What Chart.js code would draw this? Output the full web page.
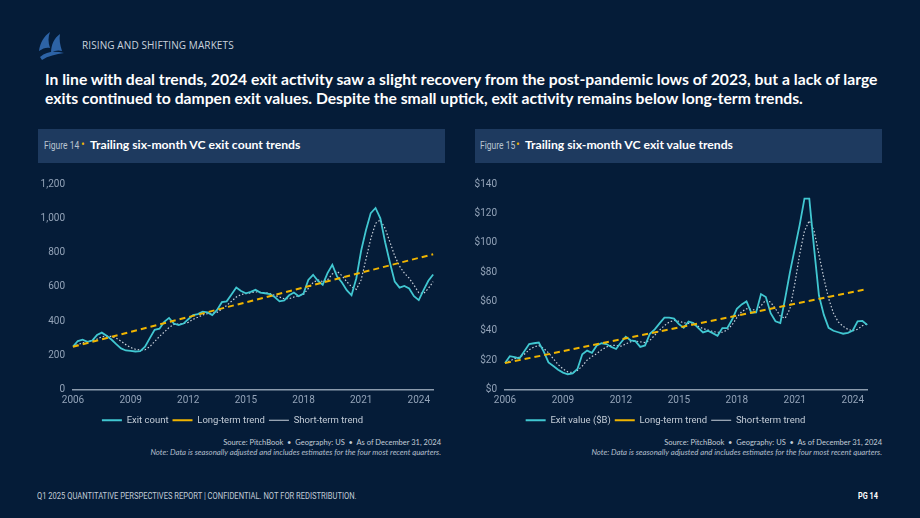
<!DOCTYPE html>
<html>
<head>
<meta charset="utf-8">
<script src="https://cdn.jsdelivr.net/npm/chart.js@4.4.1/dist/chart.umd.min.js"></script>
<style>
  html, body { margin:0; padding:0; }
  body { width:920px; height:518px; background:#051c38; position:relative; overflow:hidden; font-family:"Open Sans", Lato, sans-serif; }
  .abs { position:absolute; }
  .cond { display:inline-block; transform-origin:0 50%; white-space:nowrap; }
  #kicker { left:82px; top:38px; font-size:10px; color:#c9d2dc; letter-spacing:0.1px; }
  #headline { left:45px; top:70px; font-family:Lato, sans-serif; font-weight:700; font-size:15.7px; line-height:19px; color:#fff; white-space:nowrap; }
  .panel { top:129px; height:34px; background:#1e3a5f; }
  .panel .fig { position:absolute; top:9px; font-family:Roboto, sans-serif; font-size:11.5px; color:#b9c4d0; transform:scaleX(0.74); }
  .panel .dot { position:absolute; top:8px; color:#f2b705; font-size:10px; }
  .panel .ttl { position:absolute; top:8px; font-family:Lato, sans-serif; font-weight:700; font-size:12.2px; color:#fff; white-space:nowrap; }
  .src { font-family:Lato, sans-serif; font-size:7.8px; line-height:9.5px; color:#c2ccd7; text-align:right; white-space:nowrap; }
  .src span { font-size:7.5px; }
  .src i { color:#b3bfcc; }
  #foot { left:37px; top:491px; font-family:Roboto, sans-serif; font-size:8.5px; color:#c2ccd7; transform:scaleX(0.89); }
  #pg { left:858px; top:491px; font-family:Roboto, sans-serif; font-weight:700; font-size:8.5px; color:#fff; transform:scaleX(0.86); }
</style>
</head>
<body>
<svg class="abs" style="left:36px;top:31px" width="32" height="30" viewBox="0 0 32 30">
  <path d="M14 1 C8 5 4 12 3 20 C7 17 11 16 14 17 C12 11 12 6 14 1 Z" fill="#2d63a6"/>
  <path d="M24 3 C18 7 15 14 15 22 C19 19 23 19 26 20 C24 14 23 8 24 3 Z" fill="#2d63a6"/>
  <path d="M4 26 C11 20 19 20 28 22 C20 23 12 25 6 29 Z" fill="#2d63a6"/>
</svg>
<div id="kicker" class="abs">RISING AND SHIFTING MARKETS</div>
<div id="headline" class="abs">In line with deal trends, 2024 exit activity saw a slight recovery from the post-pandemic lows of 2023, but a lack of large<br>exits continued to dampen exit values. Despite the small uptick, exit activity remains below long-term trends.</div>

<div class="abs panel" style="left:38px;width:407px">
  <span class="fig cond" style="left:6px">Figure 14</span><span class="dot" style="left:43px">•</span><span class="ttl" style="left:52px">Trailing six-month VC exit count trends</span>
</div>
<div class="abs panel" style="left:475px;width:407px">
  <span class="fig cond" style="left:5px">Figure 15</span><span class="dot" style="left:41px">•</span><span class="ttl" style="left:50px">Trailing six-month VC exit value trends</span>
</div>

<div class="abs" style="left:30px;top:170px;width:405px;height:265px"><canvas id="countChart"></canvas></div>
<div class="abs" style="left:462px;top:170px;width:407px;height:265px"><canvas id="valueChart"></canvas></div>

<div class="abs src" style="right:479px;top:438px"><span>Source: PitchBook &nbsp;•&nbsp; Geography: US &nbsp;•&nbsp; As of December 31, 2024</span><br><i>Note: Data is seasonally adjusted and includes estimates for the four most recent quarters.</i></div>
<div class="abs src" style="right:38px;top:438px"><span>Source: PitchBook &nbsp;•&nbsp; Geography: US &nbsp;•&nbsp; As of December 31, 2024</span><br><i>Note: Data is seasonally adjusted and includes estimates for the four most recent quarters.</i></div>

<div id="foot" class="abs cond">Q1 2025 QUANTITATIVE PERSPECTIVES REPORT | CONFIDENTIAL. NOT FOR REDISTRIBUTION.</div>
<div id="pg" class="abs cond">PG 14</div>

<script>
// quarters 2006 Q1 .. 2024 Q4
const quarters = [];
for (let y = 2006; y <= 2024; y++) {
  for (let q = 1; q <= 4; q++) quarters.push(y + ' Q' + q);
}
const yearTicks = ['2006', '2009', '2012', '2015', '2018', '2021', '2024'];

const exitCount = [
  250, 283, 291, 278, 286, 318, 332, 314,
  292, 265, 240, 228, 226, 222, 224, 250,
  300, 348, 355, 395, 418, 385, 376, 385,
  410, 435, 440, 455, 450, 435, 465, 510,
  515, 555, 595, 575, 562, 570, 582, 566,
  562, 557, 540, 515, 520, 550, 566, 545,
  560, 640, 670, 635, 612, 680, 728, 660,
  625, 580, 550, 650, 810, 930, 1030, 1060,
  1000, 860, 740, 630, 595, 605, 590, 545,
  522, 580, 635, 672
];
const countShort = [
  250, 262, 272, 280, 285, 295, 308, 312,
  310, 300, 282, 262, 245, 235, 230, 232,
  250, 280, 310, 335, 362, 380, 382, 385,
  392, 410, 422, 435, 443, 445, 450, 470,
  490, 515, 540, 555, 560, 565, 570, 568,
  565, 560, 550, 540, 530, 530, 540, 548,
  555, 590, 625, 640, 630, 640, 675, 690,
  665, 630, 600, 585, 640, 760, 880, 970,
  990, 940, 860, 780, 720, 680, 650, 610,
  565, 560, 590, 630
];
// long-term trend is a straight fit: start and end
const countLongStart = 250, countLongEnd = 790;

const exitValue = [
  18, 22.7, 22, 21.2, 26, 31, 31.5, 32,
  26, 18.5, 16, 13.5, 11.5, 10.4, 11, 14,
  24, 26.5, 25, 30, 31.5, 31, 29, 27.6,
  32, 36, 33.5, 33, 29, 30, 38, 41,
  45, 49, 49, 48.3, 44.5, 42, 46.3, 45.3,
  42, 38.9, 40, 38.4, 36.6, 41.8, 41.8, 47.5,
  55, 58, 60, 52.3, 52.5, 65, 63, 52,
  46.5, 45.3, 62, 80, 96, 112, 130, 130,
  96, 64, 51, 42, 40, 39, 38, 38.6,
  40.2, 46.5, 46.7, 44
];
const valueShort = [
  18, 19.5, 21, 22, 24, 27, 29, 30,
  28, 25, 21, 17, 14, 12, 11.5, 13,
  16, 20, 22.5, 24.5, 27, 29, 30, 30,
  29.5, 31, 32.5, 33, 32.5, 32, 33.5, 37,
  40.5, 43.5, 46, 47, 46.5, 45.5, 45, 44.5,
  43, 41.5, 40.5, 39.5, 39, 39, 40.5, 44,
  49, 53, 55, 54.5, 54, 57, 61, 59.5,
  55, 50, 48.5, 55, 72, 92, 108, 115,
  108, 92, 76, 62, 52, 46, 43, 41,
  40, 41, 43.5, 45
];
const valueLongStart = 18, valueLongEnd = 68.5;

const tickFont = { family: 'Roboto, sans-serif', size: 10 };
const legendFont = { family: 'Roboto, sans-serif', size: 9.5 };
const tickColor = '#93a3b8';

function trendLine(start, end) {
  const arr = quarters.map(() => null);
  arr[0] = start;
  arr[arr.length - 1] = end;
  return arr;
}

function makeChart(id, mainLabel, mainData, shortData, longStart, longEnd, yMax, yStep, fmt) {
  return new Chart(document.getElementById(id), {
    type: 'line',
    data: {
      labels: quarters,
      datasets: [
        { label: mainLabel, data: mainData, borderColor: '#41c7d1', borderWidth: 1.8,
          pointRadius: 0, tension: 0, order: 2 },
        { label: 'Long-term trend', data: trendLine(longStart, longEnd), spanGaps: true,
          borderColor: '#f0b400', borderWidth: 2, borderDash: [6, 4], pointRadius: 0, order: 1 },
        { label: 'Short-term trend', data: shortData, borderColor: '#c9d1db', borderWidth: 1.2,
          borderDash: [1.5, 2], pointRadius: 0, tension: 0, order: 3 }
      ]
    },
    options: {
      responsive: true,
      maintainAspectRatio: false,
      animation: false,
      layout: { padding: { top: 12, right: 0, left: 0, bottom: 0 } },
      plugins: {
        tooltip: { enabled: false },
        legend: {
          position: 'bottom',
          labels: {
            usePointStyle: true,
            pointStyle: 'line',
            pointStyleWidth: 20,
            color: '#c3ccd7',
            padding: 4,
            font: legendFont,
            sort: (a, b) => a.datasetIndex - b.datasetIndex
          }
        }
      },
      scales: {
        x: {
          type: 'category',
          offset: false,
          grid: { display: false, drawTicks: false },
          border: { display: true, color: '#8c9bad', width: 1.5 },
          ticks: {
            autoSkip: false, maxRotation: 0, color: tickColor, font: tickFont, padding: 5,
            callback: function (v) {
              const l = this.getLabelForValue(v);
              return (l.endsWith('Q1') && yearTicks.includes(l.slice(0, 4))) ? l.slice(0, 4) : null;
            }
          }
        },
        y: {
          min: 0, max: yMax,
          grid: { display: false, drawTicks: false },
          border: { display: false },
          ticks: { stepSize: yStep, color: tickColor, font: tickFont, padding: 8, callback: fmt },
          afterFit: function (scale) { scale.width = 43; }
        }
      }
    }
  });
}

makeChart('countChart', 'Exit count', exitCount, countShort, countLongStart, countLongEnd, 1200, 200,
  v => v.toLocaleString('en-US'));
makeChart('valueChart', 'Exit value ($B)', exitValue, valueShort, valueLongStart, valueLongEnd, 140, 20,
  v => '$' + v);
</script>
</body>
</html>
